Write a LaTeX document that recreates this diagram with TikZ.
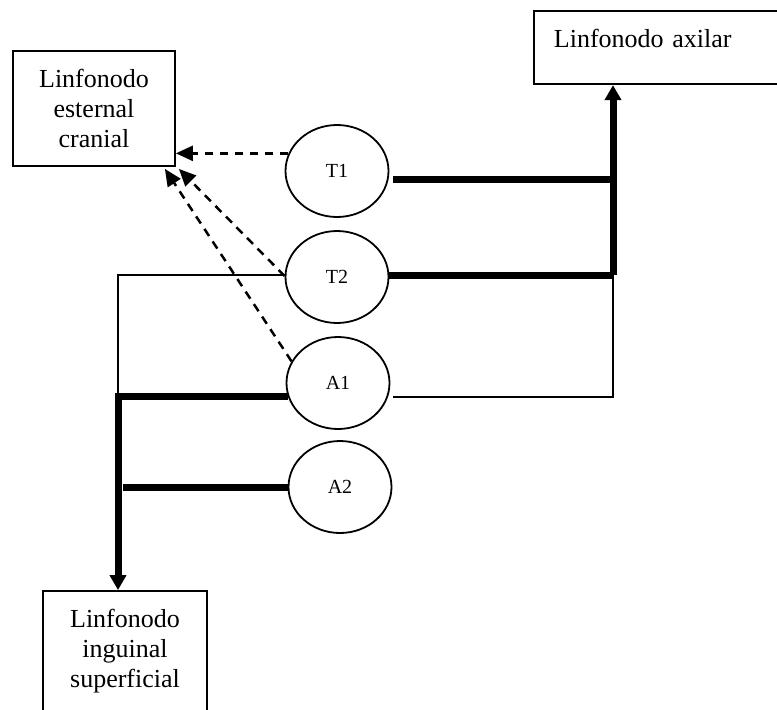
\documentclass[tikz,border=0pt]{standalone}
\usepackage{fontspec}
\setmainfont{Liberation Serif}
\usetikzlibrary{shapes.geometric,arrows.meta}
\begin{document}
\begin{tikzpicture}[x=1pt,y=-1pt,>={Triangle[length=15pt,width=16pt]},
caixa/.style={draw,line width=1.8pt,align=center,inner sep=0pt,font=\fontsize{26}{30}\selectfont},
no/.style={draw,ellipse,line width=1.8pt,minimum width=103pt,minimum height=92pt,inner sep=0pt,font=\fontsize{20}{24}\selectfont},
grossa/.style={line width=7pt},
fina/.style={line width=2pt},
tracejada/.style={line width=2.5pt,dash pattern=on 8.5pt off 6.5pt,-{Triangle[length=17pt,width=15pt]}}]
\useasboundingbox (0,0) rectangle (777,710);
\node[caixa,minimum width=162pt,minimum height=115pt] (esternal) at (94,108.5) {Linfonodo\\esternal\\cranial};
\node[caixa,anchor=north west,text width=206pt,align=left,inner xsep=20pt,inner ysep=18pt,text depth=19pt] (axilar) at (533,10) {Linfonodo axilar};
\node[caixa,minimum width=164pt,minimum height=121pt] (inguinal) at (125,651.5) {Linfonodo\\inguinal\\superficial};
\node[no] (t1) at (337,171) {T1};
\node[no] (t2) at (337,277) {T2};
\node[no] (a1) at (338,383) {A1};
\node[no] (a2) at (340,487) {A2};
\coordinate (jd) at (613,275);
\coordinate (je) at (118,396);
\draw[tracejada] (t1.160) -- (t1.160 -| esternal.east);
\draw[tracejada] ([yshift=1pt]t2.west) -- ([shift={(3,2)}]esternal.south east);
\draw[tracejada] (a1.155) -- ([shift={(-11,2)}]esternal.south east);
\draw[grossa,->] (jd) -- (jd |- axilar.south);
\draw[grossa] ([shift={(4,8)}]t1.east) coordinate (p1) -- (p1 -| jd);
\draw[grossa] ([yshift=2pt]t2.east) -- ([yshift=2pt]t2.east -| jd);
\draw[fina] (jd) |- ([shift={(3,14)}]a1.east);
\draw[fina] ([yshift=2pt]t2.west) -| (je);
\draw[grossa] (je) -- ([shift={(2,13)}]a1.west);
\draw[grossa,->] ([yshift=3.5pt]je) -- (je |- inguinal.north);
\draw[grossa] ([xshift=5pt]a2.west -| je) -- (a2.west);
\end{tikzpicture}
\end{document}
